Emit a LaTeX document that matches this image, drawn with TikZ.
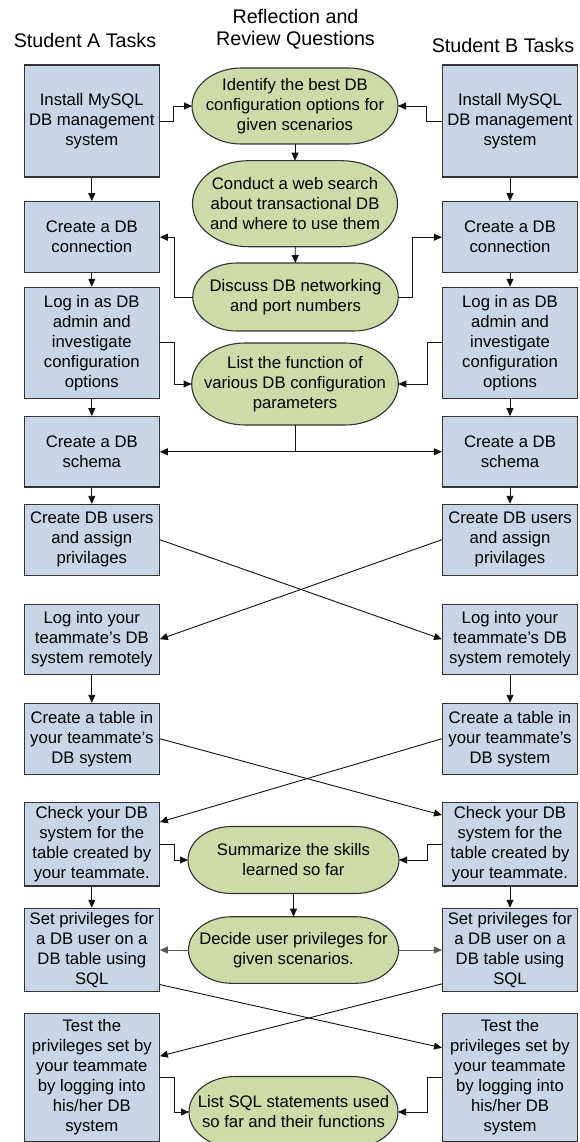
\documentclass[tikz,border=0pt]{standalone}
\usepackage{fontspec}
\setmainfont{Liberation Sans}
\usetikzlibrary{arrows.meta,calc}
\definecolor{boxfill}{HTML}{C8D5E5}
\definecolor{boxline}{HTML}{333333}
\definecolor{stadfill}{HTML}{CCDBA8}
\definecolor{stadline}{HTML}{333333}
\definecolor{connline}{HTML}{111111}
\definecolor{connGray}{HTML}{595959}
\newcommand\stadium[6]{%
  \pgfmathsetmacro\stadL{#2-#4/2}%
  \pgfmathsetmacro\stadR{#2+#4/2}%
  \pgfmathsetmacro\stadT{-#3+#5/2}%
  \pgfmathsetmacro\stadB{-#3-#5/2}%
  \pgfmathsetmacro\stadRx{0.65*#5}%
  \pgfmathsetmacro\stadRy{#5/2}%
  \draw[stadshape] ({\stadL+\stadRx},{\stadT}) -- ({\stadR-\stadRx},{\stadT})
    arc[start angle=90,end angle=-90,x radius=\stadRx,y radius=\stadRy]
    -- ({\stadL+\stadRx},{\stadB})
    arc[start angle=270,end angle=90,x radius=\stadRx,y radius=\stadRy] -- cycle;
  \node[stadtext, minimum width=#4pt, minimum height=#5pt] (#1) at (#2,-#3) {#6};
}
\begin{document}
\begin{tikzpicture}[x=1pt,y=1pt,
  taskbox/.style={draw=boxline, fill=boxfill, line width=1.1pt, inner sep=0pt,
    minimum width=135pt, align=center, font=\fontsize{16.7}{20}\selectfont},
  stadshape/.style={draw=stadline, fill=stadfill, line width=1.1pt},
  stadtext/.style={inner sep=0pt, outer sep=0pt, align=center, font=\fontsize{16.7}{20}\selectfont},
  title/.style={align=center, inner sep=0pt, font=\fontsize{19.7}{22.5}\selectfont},
  conn/.style={draw=connline, line width=0.9pt, -{Triangle[length=8pt,width=7pt]}},
  conng/.style={conn, draw=connGray, -{Triangle[length=8pt,width=7pt,fill=connGray]}},
  plain/.style={draw=connline, line width=0.9pt}
]
\useasboundingbox (0,0) rectangle (580,-1142);

% titles
\node[title] (tA) at (85,-40) {Student A Tasks};
\node[title] (tR) at (295.5,-29) {Reflection and\\Review Questions};
\node[title] (tB) at (503,-45) {Student B Tasks};

% Student A boxes
\node[taskbox, minimum height=112pt] (A1) at (91.8,-121) {Install MySQL\\DB management\\system};
\node[taskbox, minimum height=71pt] (A2) at (91.8,-237.2) {Create a DB\\connection};
\node[taskbox, minimum height=111pt] (A3) at (91.8,-342.8) {Log in as DB\\admin and\\investigate\\configuration\\options};
\node[taskbox, minimum height=70.3pt] (A4) at (91.8,-451.8) {Create a DB\\schema};
\node[taskbox, minimum height=70.7pt] (A5) at (91.8,-539.7) {Create DB users\\and assign\\privilages};
\node[taskbox, minimum height=70.3pt] (A6) at (91.8,-639.2) {Log into your\\teammate’s DB\\system remotely};
\node[taskbox, minimum height=70.7pt] (A7) at (91.8,-738.7) {Create a table in\\your teammate’s\\DB system};
\node[taskbox, minimum height=83.3pt] (A8) at (91.8,-844.3) {Check your DB\\system for the\\table created by\\your teammate.};
\node[taskbox, minimum height=83.4pt] (A9) at (91.8,-950) {Set privileges for\\a DB user on a\\DB table using\\SQL};
\node[taskbox, minimum height=128.4pt] (A10) at (91.8,-1077.5) {Test the\\privileges set by\\your teammate\\by logging into\\his/her DB\\system};

% Student B boxes
\node[taskbox, minimum height=112pt] (B1) at (510,-121) {Install MySQL\\DB management\\system};
\node[taskbox, minimum height=71pt] (B2) at (510,-237.2) {Create a DB\\connection};
\node[taskbox, minimum height=111pt] (B3) at (510,-342.8) {Log in as DB\\admin and\\investigate\\configuration\\options};
\node[taskbox, minimum height=70.3pt] (B4) at (510,-451.8) {Create a DB\\schema};
\node[taskbox, minimum height=70.7pt] (B5) at (510,-539.7) {Create DB users\\and assign\\privilages};
\node[taskbox, minimum height=70.3pt] (B6) at (510,-639.2) {Log into your\\teammate’s DB\\system remotely};
\node[taskbox, minimum height=70.7pt] (B7) at (510,-738.7) {Create a table in\\your teammate’s\\DB system};
\node[taskbox, minimum height=83.3pt] (B8) at (510,-844.3) {Check your DB\\system for the\\table created by\\your teammate.};
\node[taskbox, minimum height=83.4pt] (B9) at (510,-950) {Set privileges for\\a DB user on a\\DB table using\\SQL};
\node[taskbox, minimum height=128.4pt] (B10) at (510,-1077.5) {Test the\\privileges set by\\your teammate\\by logging into\\his/her DB\\system};

% Reflection shapes
\stadium{E1}{295}{106}{206}{76}{Identify the best DB\\configuration options for\\given scenarios}
\stadium{E2}{295}{203.7}{205}{86}{Conduct a web search\\about transactional DB\\and where to use them}
\stadium{E3}{295.5}{297}{205.5}{68}{Discuss DB networking\\and port numbers}
\stadium{E4}{295}{384}{206.6}{82}{List the function of\\various DB configuration\\parameters}
\stadium{E5}{293.5}{860}{211}{67}{Summarize the skills\\learned so far}
\stadium{E6}{293.5}{950}{210}{66.6}{Decide user privileges for\\given scenarios.}
\stadium{E7}{293.5}{1112}{209}{71}{List SQL statements used\\so far and their functions}

% vertical flows
\foreach \a/\b in {A1/A2,A2/A3,A3/A4,A4/A5,A6/A7,A8/A9,B1/B2,B2/B3,B3/B4,B4/B5,B6/B7,B8/B9,E1/E2,E2/E3,E5/E6}
  \draw[conn] (\a) -- (\b);

% elbow connectors
\draw[conn] (A1.east) -- ++(14,0) |- (E1.west);
\draw[conn] (B1.west) -- ++(-15.6,0) |- (E1.east);
\draw[conn] (E3.west) -| ($(A2.east)+(15,0)$) -- (A2.east);
\draw[conn] (E3.east) -| ($(B2.west)+(-29.6,0)$) -- (B2.west);
\draw[conn] (A3.east) -- ++(15,0) |- (E4.west);
\draw[conn] (B3.west) -- ++(-15,0) |- (E4.east);
\draw[conn] (E4.south) |- (A4.east);
\draw[conn] (E4.south) |- (B4.west);
\draw[conn] (A8.east) -- ++(15,0) |- (E5.west);
\draw[conn] (B8.west) -- ++(-15,0) |- (E5.east);
\draw[conng] (E6.west) -- (A9.east);
\draw[conng] (E6.east) -- (B9.west);
\draw[conn] (A10.east) -- ++(15,0) |- (E7.west);
\draw[conn] (B10.west) -- ++(-15,0) |- (E7.east);

% crossing connectors
\draw[conn] (A5.east) -- (B6.west);
\draw[conn] (B5.west) -- (A6.east);
\draw[conn] (A7.east) -- ($(B8.north west)+(0,-13)$);
\draw[conn] (B7.west) -- ($(A8.north east)+(0,-20)$);
\draw[conn] ($(A9.south east)+(0,7.7)$) -- ($(B10.north west)+(0,-35)$);
\draw[conn] ($(B9.south west)+(0,8.4)$) -- ($(A10.north east)+(0,-43.4)$);
\end{tikzpicture}
\end{document}
